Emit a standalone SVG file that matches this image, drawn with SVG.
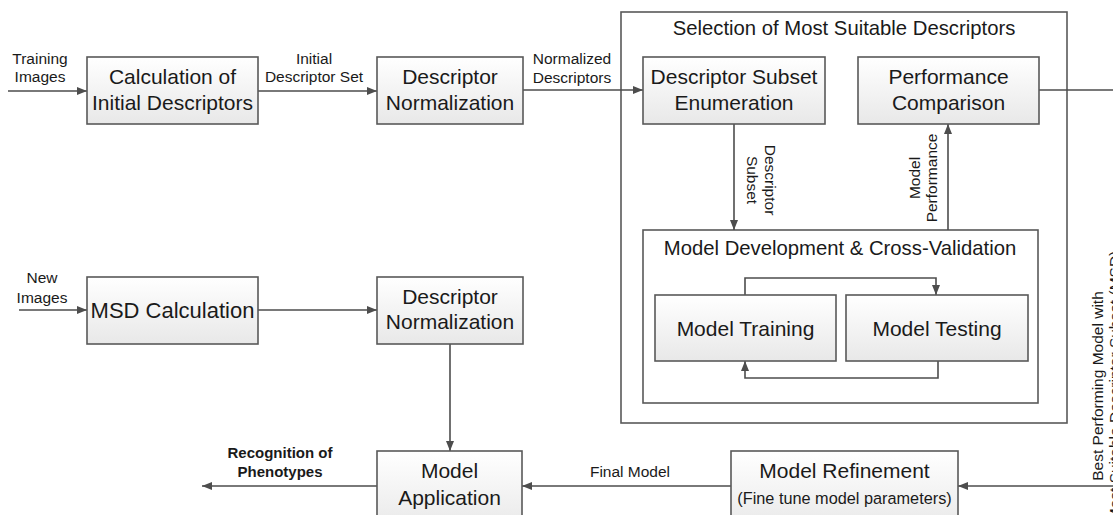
<svg xmlns="http://www.w3.org/2000/svg" width="1113" height="515" viewBox="0 0 1113 515">
<style>
.box{fill:url(#g);stroke:#595959;stroke-width:1.6}
.frame{fill:#fff;stroke:#595959;stroke-width:1.6}
.t{font-family:"Liberation Sans",Arial,sans-serif;font-size:21px;fill:#1a1a1a;text-anchor:middle}
.tt{font-family:"Liberation Sans",Arial,sans-serif;font-size:20.3px;fill:#1a1a1a;text-anchor:middle}
.s{font-family:"Liberation Sans",Arial,sans-serif;font-size:15.5px;fill:#1a1a1a;text-anchor:middle}
.b{font-family:"Liberation Sans",Arial,sans-serif;font-size:15px;font-weight:bold;fill:#1a1a1a;text-anchor:middle}
.c{fill:none;stroke:#4d4d4d;stroke-width:1.6}
.a{marker-end:url(#ah)}
</style>
<defs>
<linearGradient id="g" x1="0" y1="0" x2="0" y2="1">
<stop offset="0" stop-color="#ffffff"/>
<stop offset="1" stop-color="#e8e8e8"/>
</linearGradient>
<marker id="ah" viewBox="0 0 10 8" refX="10" refY="4" markerWidth="10" markerHeight="8" markerUnits="userSpaceOnUse" orient="auto">
<path d="M0,0L10,4L0,8z" fill="#4d4d4d"/>
</marker>
</defs>
<rect width="1113" height="515" fill="#fff"/>

<g id="selection">
<rect class="frame" x="621" y="12" width="446" height="411"/>
<text class="tt" x="844" y="35">Selection of Most Suitable Descriptors</text>
</g>
<g id="modeldev">
<rect class="frame" x="643" y="230" width="395" height="173"/>
<text class="tt" x="840" y="255">Model Development &amp; Cross-Validation</text>
</g>

<g id="connectors">
<path class="c a" d="M8,91H87"/>
<path class="c a" d="M258,91H377"/>
<path class="c a" d="M523,90H643"/>
<path class="c" d="M1039,90H1113"/>
<path class="c a" d="M1113,486H958"/>
<path class="c a" d="M731,486H522"/>
<path class="c a" d="M377,486H202"/>
<path class="c a" d="M19,310H87"/>
<path class="c a" d="M258,310H377"/>
<path class="c a" d="M450,344V451"/>
<path class="c a" d="M734,124V230"/>
<path class="c a" d="M948,230V124"/>
<path class="c a" d="M745,295V278H936V295"/>
<path class="c a" d="M938,361V378H745V361"/>
</g>

<g id="labels">
<text class="s" x="40" y="64">Training</text>
<text class="s" x="40" y="82">Images</text>
<text class="s" x="314" y="64">Initial</text>
<text class="s" x="314" y="82">Descriptor Set</text>
<text class="s" x="572" y="64">Normalized</text>
<text class="s" x="572" y="83">Descriptors</text>
<text class="s" x="42" y="283">New</text>
<text class="s" x="42" y="303">Images</text>
<text class="b" x="280" y="458">Recognition of</text>
<text class="b" x="280" y="477">Phenotypes</text>
<text class="s" x="630" y="477">Final Model</text>
<g transform="translate(765,180) rotate(90)">
<text class="s" x="0" y="0">Descriptor</text>
<text class="s" x="0" y="18">Subset</text>
</g>
<g transform="translate(920,178) rotate(-90)">
<text class="s" x="0" y="0">Model</text>
<text class="s" x="0" y="17">Performance</text>
</g>
<g transform="translate(1103,386) rotate(-90)">
<text class="s" x="0" y="0">Best Performing Model with</text>
<text class="s" x="0" y="17">Most Suitable Descriptor Subset (MSD)</text>
</g>
</g>

<g id="calc">
<rect class="box" x="87" y="57" width="171" height="67"/>
<text class="t" x="172.5" y="84">Calculation of</text>
<text class="t" x="172.5" y="110">Initial Descriptors</text>
</g>
<g id="norm1">
<rect class="box" x="377" y="57" width="146" height="67"/>
<text class="t" x="450" y="84">Descriptor</text>
<text class="t" x="450" y="110">Normalization</text>
</g>
<g id="enum">
<rect class="box" x="643" y="57" width="182" height="67"/>
<text class="t" x="734" y="84">Descriptor Subset</text>
<text class="t" x="734" y="110">Enumeration</text>
</g>
<g id="perf">
<rect class="box" x="858" y="57" width="181" height="67"/>
<text class="t" x="948.5" y="84">Performance</text>
<text class="t" x="948.5" y="110">Comparison</text>
</g>
<g id="training">
<rect class="box" x="655" y="295" width="181" height="66"/>
<text class="t" x="745.5" y="336">Model Training</text>
</g>
<g id="testing">
<rect class="box" x="846" y="295" width="182" height="66"/>
<text class="t" x="937" y="336">Model Testing</text>
</g>
<g id="msd">
<rect class="box" x="87" y="277" width="171" height="67"/>
<text class="t" x="172.5" y="318" style="font-size:22px">MSD Calculation</text>
</g>
<g id="norm2">
<rect class="box" x="377" y="277" width="146" height="67"/>
<text class="t" x="450" y="304">Descriptor</text>
<text class="t" x="450" y="329">Normalization</text>
</g>
<g id="apply">
<rect class="box" x="377" y="451" width="145" height="80"/>
<text class="t" x="449.5" y="478">Model</text>
<text class="t" x="449.5" y="505">Application</text>
</g>
<g id="refine">
<rect class="box" x="731" y="451" width="227" height="80"/>
<text class="t" x="844.5" y="478">Model Refinement</text>
<text class="s" x="844.5" y="504" style="font-size:16.3px">(Fine tune model parameters)</text>
</g>
</svg>
